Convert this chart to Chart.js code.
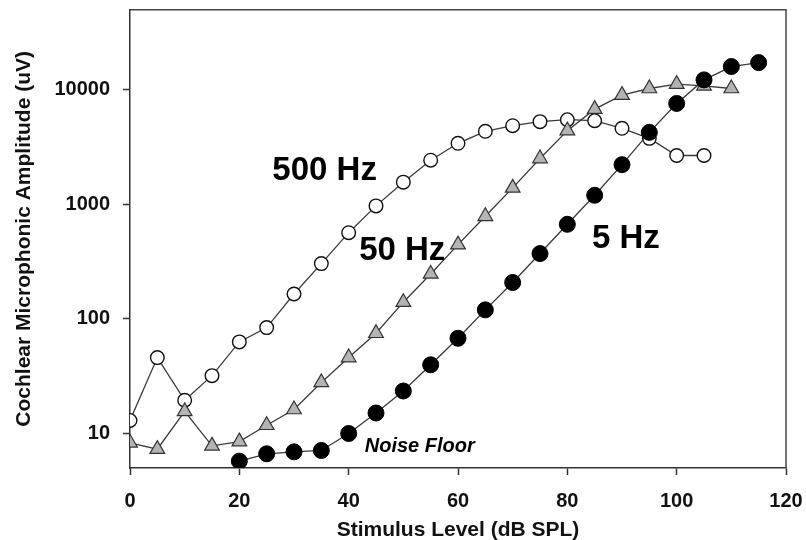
<!DOCTYPE html>
<html>
<head>
<meta charset="utf-8">
<script src="https://cdn.jsdelivr.net/npm/chart.js@4"></script>
<style>
  html, body { margin: 0; padding: 0; background: #fff; }
  #wrap { width: 806px; height: 540px; }
</style>
</head>
<body>
<div id="wrap"><canvas id="cm"></canvas></div>
<script>
// stimulus levels (dB SPL)
const levels5 = [20, 25, 30, 35, 40, 45, 50, 55, 60, 65, 70, 75, 80, 85, 90, 95, 100, 105, 110, 115];
const levels50 = [0, 5, 10, 15, 20, 25, 30, 35, 40, 45, 50, 55, 60, 65, 70, 75, 80, 85, 90, 95, 100, 105, 110];
const levels500 = [0, 5, 10, 15, 20, 25, 30, 35, 40, 45, 50, 55, 60, 65, 70, 75, 80, 85, 90, 95, 100, 105];

// cochlear microphonic amplitude (uV)
const amp5 = [5.74, 6.65, 6.92, 7.11, 10, 15.1, 23.5, 39.8, 67.8, 120, 208, 372, 670, 1200, 2220, 4250, 7600, 12200, 15950, 17270];
const amp50 = [8.3, 7.3, 15.6, 7.8, 8.5, 11.8, 16.2, 27.9, 46, 75, 140, 247, 445, 787, 1394, 2510, 4400, 6780, 8980, 10260, 11200, 10800, 10260];
const amp500 = [13, 46, 19.5, 32, 63, 84, 165, 304, 566, 970, 1563, 2430, 3410, 4340, 4860, 5270, 5480, 5370, 4610, 3770, 2670, 2670];

const xTicks = [0, 20, 40, 60, 80, 100, 120];
const yTicks = [10, 100, 1000, 10000];

// text labels placed in data space
const labels = [
  { text: "500 Hz", x: 35.6, y: 1626, font: "bold 33px 'Liberation Sans', Arial, sans-serif" },
  { text: "50 Hz", x: 49.8, y: 328, font: "bold 33px 'Liberation Sans', Arial, sans-serif" },
  { text: "5 Hz", x: 90.7, y: 417, font: "bold 33px 'Liberation Sans', Arial, sans-serif" },
  { text: "Noise Floor", x: 53, y: 6.92, font: "italic bold 20px 'Liberation Sans', Arial, sans-serif" }
];

const pts = (xs, ys) => xs.map((x, i) => ({ x: x, y: ys[i] }));
const lineCol = "#3a3a3a";
const font = "'Liberation Sans', Arial, sans-serif";

const framePlugin = {
  id: "frame",
  afterDatasetsDraw(chart) {
    const { ctx, chartArea: a, scales } = chart;
    ctx.save();
    ctx.strokeStyle = "#444";
    ctx.lineWidth = 1.5;
    ctx.beginPath();
    ctx.moveTo(a.left, a.top);
    ctx.lineTo(a.right, a.top);
    ctx.lineTo(a.right, a.bottom);
    ctx.stroke();
    ctx.fillStyle = "#000";
    ctx.textAlign = "center";
    ctx.textBaseline = "alphabetic";
    labels.forEach(l => {
      ctx.font = l.font;
      ctx.fillText(l.text, scales.x.getPixelForValue(l.x), scales.y.getPixelForValue(l.y));
    });
    ctx.restore();
  }
};

new Chart(document.getElementById("cm"), {
  type: "scatter",
  data: {
    datasets: [
      {
        label: "5 Hz",
        data: pts(levels5, amp5),
        showLine: true,
        borderColor: lineCol,
        borderWidth: 1.3,
        pointStyle: "circle",
        pointRadius: 8,
        pointBackgroundColor: "#000",
        pointBorderColor: "#000",
        pointBorderWidth: 1
      },
      {
        label: "50 Hz",
        data: pts(levels50, amp50),
        showLine: true,
        borderColor: lineCol,
        borderWidth: 1.3,
        pointStyle: "triangle",
        pointRadius: 8.5,
        pointBackgroundColor: "#b4b4b4",
        pointBorderColor: "#333",
        pointBorderWidth: 1.2
      },
      {
        label: "500 Hz",
        data: pts(levels500, amp500),
        showLine: true,
        borderColor: lineCol,
        borderWidth: 1.3,
        pointStyle: "circle",
        pointRadius: 6.8,
        pointBackgroundColor: "#fff",
        pointBorderColor: "#111",
        pointBorderWidth: 1.4
      }
    ]
  },
  options: {
    responsive: true,
    maintainAspectRatio: false,
    animation: false,
    layout: { padding: { top: 3, right: 20, left: 0, bottom: 0 } },
    plugins: { legend: { display: false }, tooltip: { enabled: false } },
    scales: {
      x: {
        type: "linear",
        min: 0,
        max: 120,
        afterBuildTicks: s => { s.ticks = xTicks.map(v => ({ value: v })); },
        afterFit: s => { s.height = 72; s.paddingLeft = 0; s.paddingRight = 0; },
        grid: { drawOnChartArea: false, drawTicks: true, tickLength: 7, tickWidth: 1.5, tickColor: "#333" },
        border: { display: true, color: "#333", width: 1.5 },
        ticks: { color: "#111", padding: 14, font: { family: font, size: 20, weight: "bold" }, callback: v => String(v) },
        title: { display: true, text: "Stimulus Level (dB SPL)", color: "#111", padding: { top: 0, bottom: -3 }, font: { family: font, size: 21, weight: "bold" } }
      },
      y: {
        type: "logarithmic",
        min: 5,
        max: 50000,
        bounds: "data",
        afterBuildTicks: s => { s.ticks = yTicks.map(v => ({ value: v })); },
        afterFit: s => { s.width = 130; s.paddingTop = 0; s.paddingBottom = 0; },
        grid: { drawOnChartArea: false, drawTicks: true, tickLength: 7, tickWidth: 1.5, tickColor: "#333" },
        border: { display: true, color: "#333", width: 1.5 },
        ticks: { color: "#111", padding: 13, font: { family: font, size: 20, weight: "bold" }, callback: v => String(v) },
        title: { display: true, text: "Cochlear Microphonic Amplitude (uV)", color: "#111", padding: { top: 12, bottom: 0 }, font: { family: font, size: 21, weight: "bold" } }
      }
    }
  },
  plugins: [framePlugin]
});
</script>
</body>
</html>
